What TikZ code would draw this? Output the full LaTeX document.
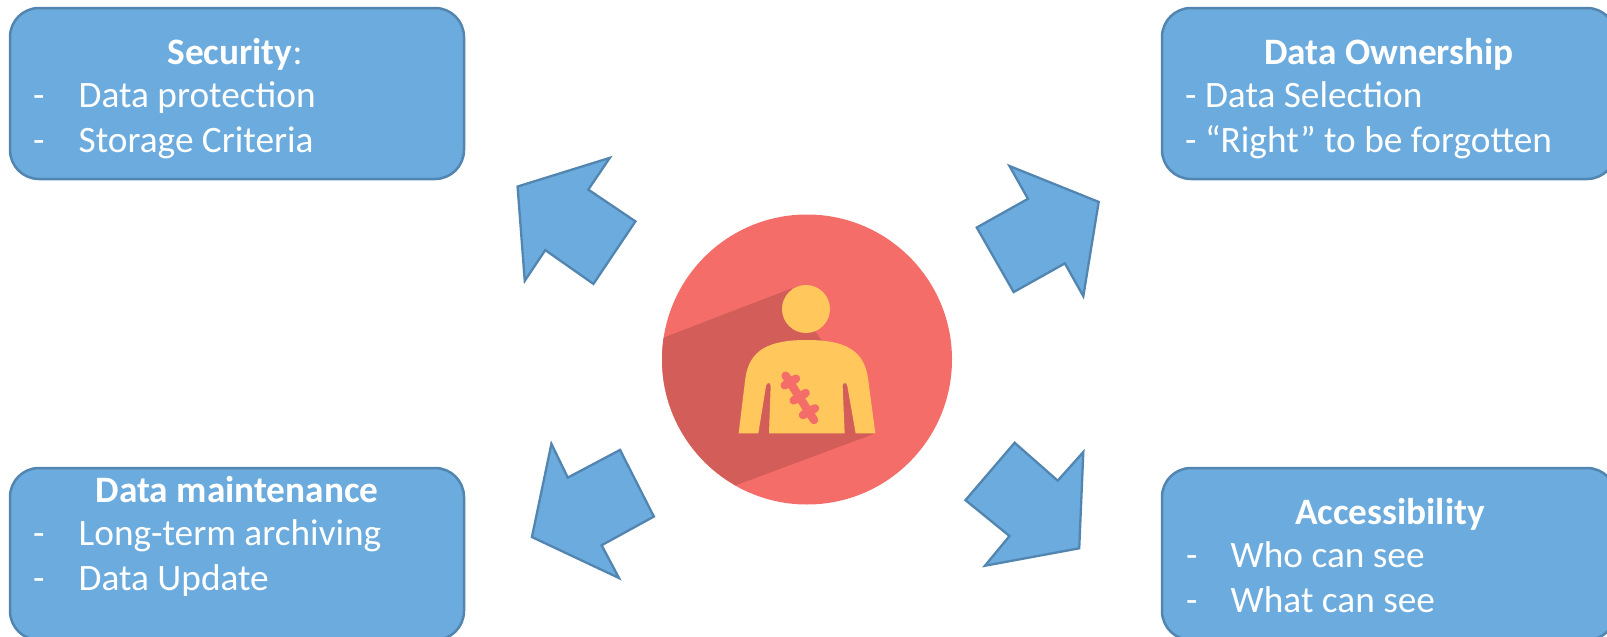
\documentclass[tikz,border=0pt]{standalone}
\usepackage{fontspec}
\setmainfont{Carlito}
\definecolor{boxblue}{HTML}{6CABDD}
\definecolor{boxline}{HTML}{5285AF}
\definecolor{disc}{HTML}{F46D69}
\definecolor{discdark}{HTML}{D35E59}
\definecolor{figure}{HTML}{FFC75C}
\tikzset{
  panel/.style={draw=boxline,fill=boxblue,line width=2.5pt,rounded corners=29pt},
  bigarrow/.style={draw=boxline,fill=boxblue,line width=2.3pt,line join=miter},
  txt/.style={text=white,inner sep=0pt,font=\fontsize{37.3}{37.3}\selectfont,anchor=base west},
  ttl/.style={text=white,inner sep=0pt,font=\fontsize{37.3}{37.3}\selectfont\bfseries,anchor=base},
  figscale/.style={shift={(640,200)},x=0.33333pt,y=-0.33333pt},
  arrowscale/.style={x=1.0249pt,y=-1.0249pt},
  scar/.style={draw=disc,line width=8.4pt,line cap=round}
}
\begin{document}
\begin{tikzpicture}[x=1pt,y=-1pt]
\useasboundingbox (0,0) rectangle (1607,637);
\clip (0,0) rectangle (1607,637);
% panels
\draw[panel] (10,8) rectangle (464,179);
\draw[panel] (1162,8) rectangle (1616,179);
\draw[panel] (10,468) rectangle (464,640);
\draw[panel] (1162,468) rectangle (1616,640);
% texts
\node[ttl] (t1) at (235,64.8) {Security{\mdseries:}};
\node[txt] (t1a) at (33,107.8) {-};
\node[txt] (t1b) at (78.5,107.8) {Data protection};
\node[txt] (t1c) at (33,152.9) {-};
\node[txt] (t1d) at (78.5,152.9) {Storage Criteria};
\node[ttl] (t2) at (1389,64.8) {Data Ownership};
\node[txt] (t2a) at (1185,107.8) {- Data Selection};
\node[txt] (t2b) at (1185,152.9) {- “Right” to be forgotten};
\node[ttl] (t3) at (237,502.2) {Data maintenance};
\node[txt] (t3a) at (33,545.2) {-};
\node[txt] (t3b) at (78.5,545.2) {Long-term archiving};
\node[txt] (t3c) at (33,590.2) {-};
\node[txt] (t3d) at (78.5,590.2) {Data Update};
\node[ttl] (t4) at (1390,524.2) {Accessibility};
\node[txt] (t4a) at (1186,567.2) {-};
\node[txt] (t4b) at (1230.5,567.2) {Who can see};
\node[txt] (t4c) at (1186,612.2) {-};
\node[txt] (t4d) at (1230.5,612.2) {What can see};
% arrows
\begin{scope}[arrowscale]
\draw[bigarrow] (505,182) -- (595,154) -- (574,185) -- (620,216) -- (579,277) -- (532,244) -- (512,274) -- cycle;
\draw[bigarrow] (985,162) -- (1072,197) -- (1057,289) -- (1039,257) -- (989,285) -- (953,222) -- (1003,194) -- cycle;
\draw[bigarrow] (538,433) -- (554,466) -- (605,439) -- (638,504) -- (587,532) -- (604,564) -- (519,524) -- cycle;
\draw[bigarrow] (1057,441) -- (1053,535) -- (961,552) -- (985,523) -- (942,488) -- (990,432) -- (1032,469) -- cycle;
\end{scope}
% disc and figure
\fill[disc] (807,359.5) circle[radius=145];
\begin{scope}[figscale]
\begin{scope}
\clip (501,478) circle[x radius=435,y radius=434];
\fill[discdark] (455,265) -- (0,440) -- (0,963) -- (706,700) -- (600,500) -- (525,393) -- cycle;
\end{scope}
\fill[figure] (498,327) circle[x radius=72,y radius=-72];
\fill[figure] (296,700) -- (316,535) .. controls (328,450) and (385,420) .. (500,420)
  .. controls (615,420) and (672,450) .. (684,535) -- (706,700) -- (647,700) -- (622,558)
  .. controls (620,546) and (608,546) .. (608,558) -- (614,700) -- (387,700) -- (392,558)
  .. controls (392,546) and (380,546) .. (378,558) -- (355,700) -- cycle;
\draw[scar] (437,527) -- (522,660);
\draw[scar] (434,556) -- (468,536);
\draw[scar] (461,601) -- (497,579);
\draw[scar] (489,645) -- (525,625);
\end{scope}
\end{tikzpicture}
\end{document}
